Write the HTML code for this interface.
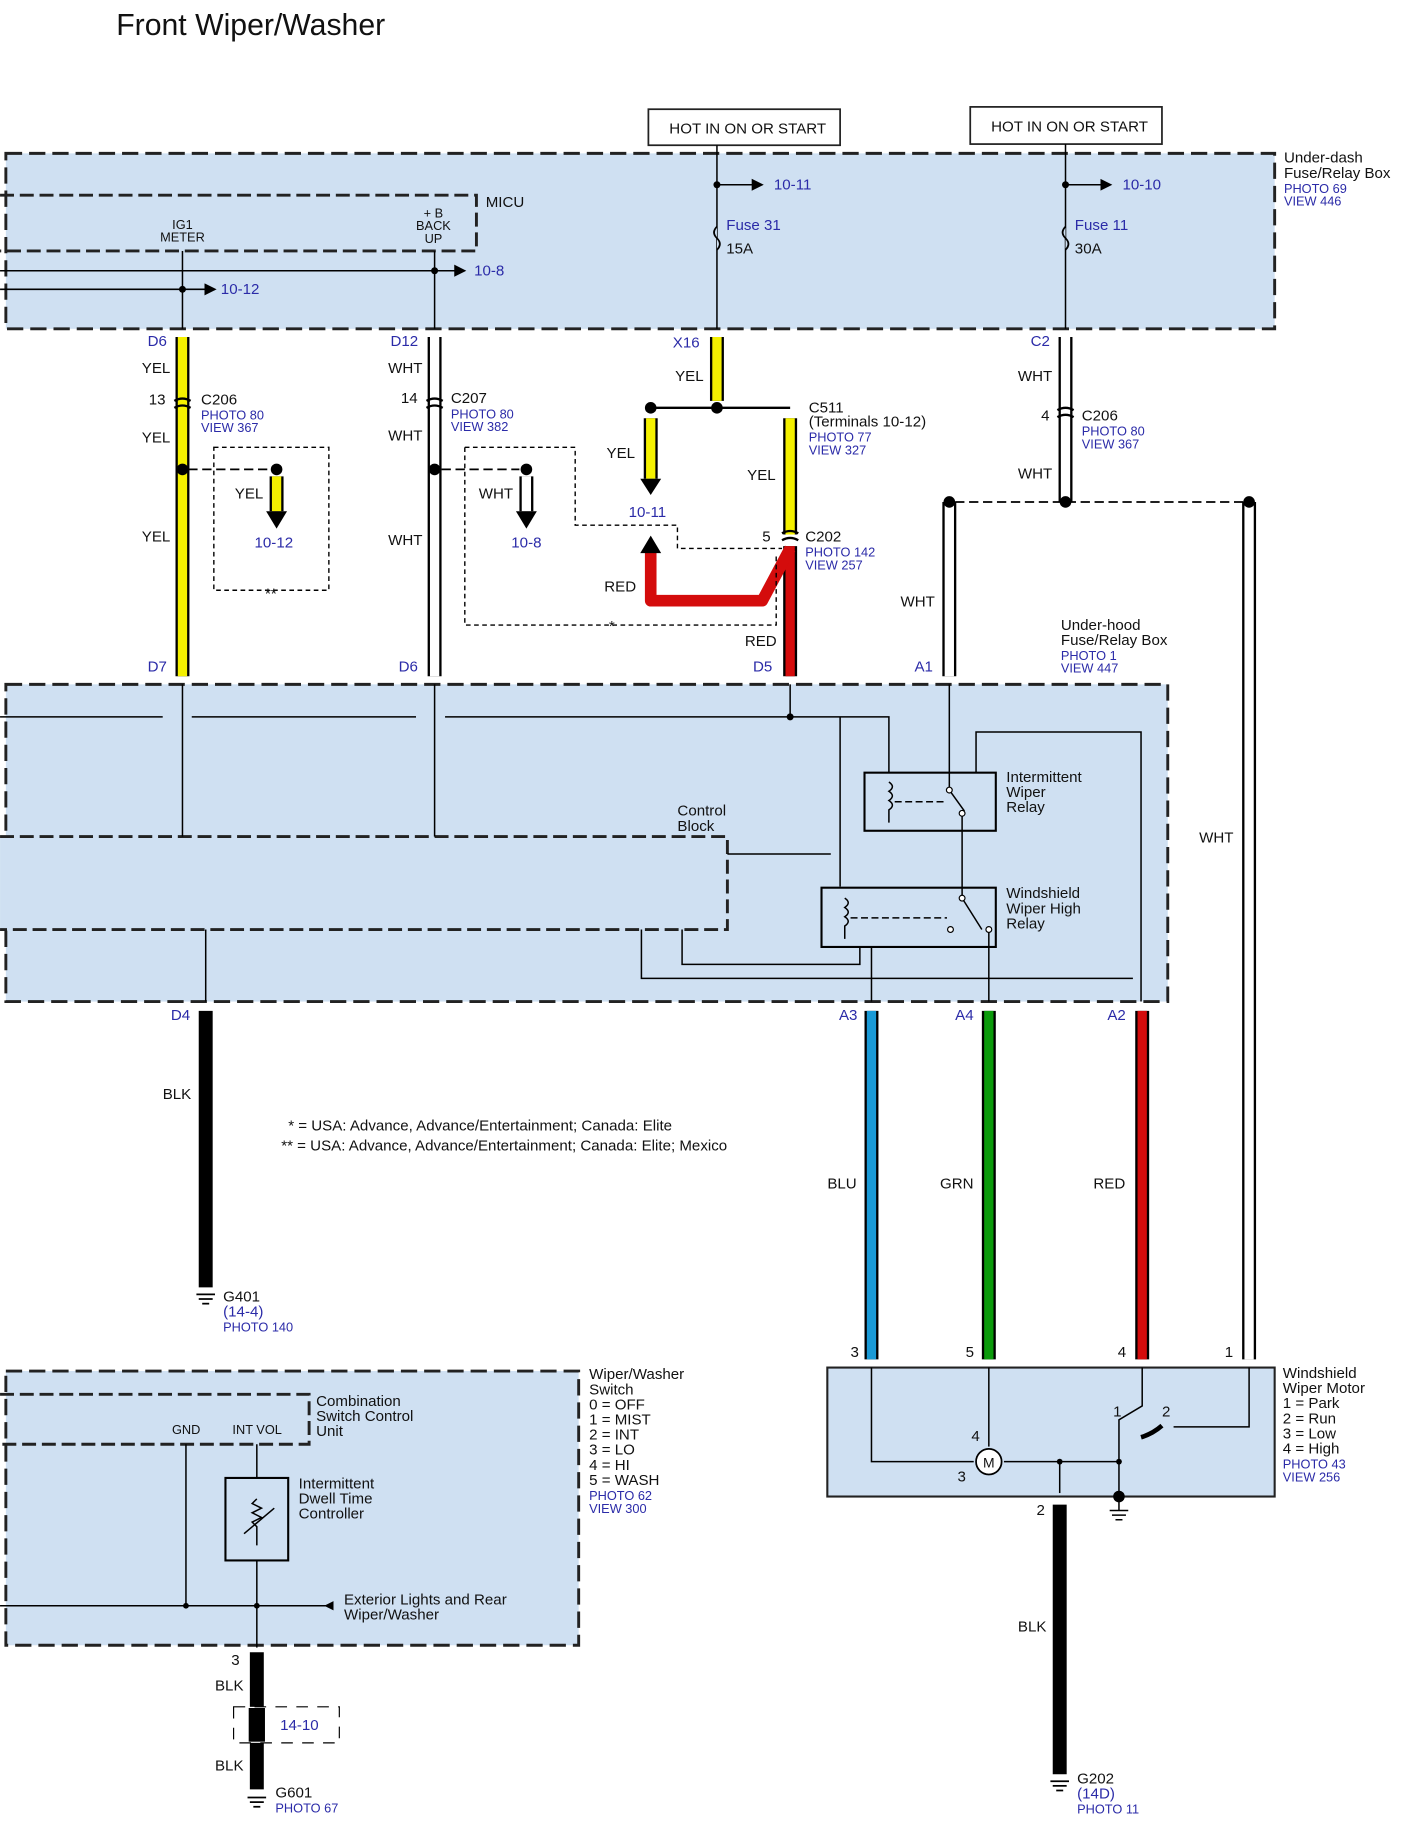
<!DOCTYPE html>
<html><head><meta charset="utf-8"><style>
html,body{margin:0;padding:0;background:#fff}
svg{display:block}
text{font-family:"Liberation Sans",sans-serif;font-size:13px;fill:#111}
.b{fill:#2b2ba8;font-size:11px}
.bl{fill:#2b2ba8;font-size:13px}
.s{font-size:11px}
</style></head><body>
<svg width="1406" height="1830" viewBox="0 0 1210 1575" xmlns="http://www.w3.org/2000/svg">
<defs>
<marker id="ar" markerWidth="8" markerHeight="8" refX="7" refY="4" orient="auto"><path d="M0,0 L8,4 L0,8z" fill="#000"/></marker>
</defs>
<text x="100" y="30" style="font-size:26px">Front Wiper/Washer</text>

<rect x="5" y="132" width="1092" height="151" fill="#cfe0f2" stroke="#222" stroke-width="2.5" stroke-dasharray="14,6"/>
<path d="M0,168 H410 V216 H0" fill="none" stroke="#222" stroke-width="2.5" stroke-dasharray="12,5"/>
<text x="418" y="178">MICU</text>
<text x="157" y="197" text-anchor="middle" class="s">IG1</text>
<text x="157" y="208" text-anchor="middle" class="s">METER</text>
<text x="373" y="187" text-anchor="middle" class="s">+ B</text>
<text x="373" y="198" text-anchor="middle" class="s">BACK</text>
<text x="373" y="209" text-anchor="middle" class="s">UP</text>
<line x1="0" y1="233" x2="400" y2="233" stroke="#000" stroke-width="1.3" marker-end="url(#ar)"/>
<line x1="0" y1="249" x2="185" y2="249" stroke="#000" stroke-width="1.3" marker-end="url(#ar)"/>
<text x="408" y="237" class="bl">10-8</text>
<text x="190" y="253" class="bl">10-12</text>
<circle cx="374" cy="233" r="3"/><circle cx="157" cy="249" r="3"/>
<line x1="157" y1="216" x2="157" y2="283" stroke="#000" stroke-width="1.3"/>
<line x1="374" y1="216" x2="374" y2="283" stroke="#000" stroke-width="1.3"/>

<rect x="558" y="94" width="165" height="31" fill="#fff" stroke="#222" stroke-width="1.5"/>
<text x="576" y="115">HOT IN ON OR START</text>
<rect x="835" y="92" width="165" height="32" fill="#fff" stroke="#222" stroke-width="1.5"/>
<text x="853" y="113">HOT IN ON OR START</text>
<line x1="617" y1="125" x2="617" y2="283" stroke="#000" stroke-width="1.3"/>
<line x1="917" y1="124" x2="917" y2="283" stroke="#000" stroke-width="1.3"/>
<circle cx="617" cy="159" r="3"/><circle cx="917" cy="159" r="3"/>
<line x1="617" y1="159" x2="656" y2="159" stroke="#000" stroke-width="1.3" marker-end="url(#ar)"/>
<line x1="917" y1="159" x2="956" y2="159" stroke="#000" stroke-width="1.3" marker-end="url(#ar)"/>
<text x="666" y="163" class="bl">10-11</text><text x="966" y="163" class="bl">10-10</text>
<text x="625" y="198" class="bl">Fuse 31</text><text x="625" y="218">15A</text>
<text x="925" y="198" class="bl">Fuse 11</text><text x="925" y="218">30A</text>
<path d="M617,195 q-5,5 0,10 q5,5 0,10" fill="#cfe0f2" stroke="#000" stroke-width="1.5"/>
<path d="M917,195 q-5,5 0,10 q5,5 0,10" fill="#cfe0f2" stroke="#000" stroke-width="1.5"/>
<text x="1105" y="140">Under-dash</text><text x="1105" y="153">Fuse/Relay Box</text>
<text x="1105" y="166" class="b">PHOTO 69</text><text x="1105" y="177" class="b">VIEW 446</text>

<g stroke-linecap="butt">
<line x1="157" y1="290" x2="157" y2="582" stroke="#000" stroke-width="12"/>
<line x1="157" y1="290" x2="157" y2="582" stroke="#f4f000" stroke-width="8"/>
<line x1="374" y1="290" x2="374" y2="582" stroke="#000" stroke-width="12"/>
<line x1="374" y1="290" x2="374" y2="582" stroke="#fff" stroke-width="8"/>
<line x1="617" y1="290" x2="617" y2="345" stroke="#000" stroke-width="12"/>
<line x1="617" y1="290" x2="617" y2="345" stroke="#f4f000" stroke-width="8"/>
<line x1="917" y1="290" x2="917" y2="432" stroke="#000" stroke-width="12"/>
<line x1="917" y1="290" x2="917" y2="432" stroke="#fff" stroke-width="8"/>
<line x1="817" y1="432" x2="817" y2="582" stroke="#000" stroke-width="12"/>
<line x1="817" y1="432" x2="817" y2="582" stroke="#fff" stroke-width="8"/>
<line x1="1075" y1="432" x2="1075" y2="1170" stroke="#000" stroke-width="12"/>
<line x1="1075" y1="432" x2="1075" y2="1170" stroke="#fff" stroke-width="8"/>
<line x1="680" y1="360" x2="680" y2="460" stroke="#000" stroke-width="12"/>
<line x1="680" y1="360" x2="680" y2="460" stroke="#f4f000" stroke-width="8"/>
<line x1="560" y1="360" x2="560" y2="412" stroke="#000" stroke-width="12"/>
<line x1="560" y1="360" x2="560" y2="412" stroke="#f4f000" stroke-width="8"/>
<path d="M551,412 H569 L560,426z" fill="#000"/>
<line x1="238" y1="410" x2="238" y2="440" stroke="#000" stroke-width="12"/>
<line x1="238" y1="410" x2="238" y2="440" stroke="#f4f000" stroke-width="8"/>
<path d="M229,440 H247 L238,455z" fill="#000"/>
<line x1="453" y1="410" x2="453" y2="440" stroke="#000" stroke-width="12"/>
<line x1="453" y1="410" x2="453" y2="440" stroke="#fff" stroke-width="8"/>
<path d="M444,440 H462 L453,455z" fill="#000"/>
<path d="M680,470 V582" stroke="#000" stroke-width="12" fill="none"/>
<path d="M680,470 V582" stroke="#d40c0c" stroke-width="8" fill="none"/>
<path d="M560,475 V517 H656 L680,472" stroke="#d40c0c" stroke-width="10" fill="none" stroke-linejoin="round"/>
<path d="M551,476 H569 L560,461z" fill="#000"/>
</g>
<line x1="560" y1="351" x2="680" y2="351" stroke="#000" stroke-width="2"/>
<circle cx="560" cy="351" r="5"/><circle cx="617" cy="351" r="5"/>
<circle cx="157" cy="404" r="5"/><circle cx="238" cy="404" r="5"/>
<circle cx="374" cy="404" r="5"/><circle cx="453" cy="404" r="5"/>
<circle cx="817" cy="432" r="5"/><circle cx="917" cy="432" r="5"/><circle cx="1075" cy="432" r="5"/>
<g fill="none" stroke="#000" stroke-width="1.2" stroke-dasharray="4,3">
<line x1="162" y1="404" x2="232" y2="404" stroke-dasharray="8,4" stroke-width="1.5"/>
<line x1="380" y1="404" x2="447" y2="404" stroke-dasharray="8,4" stroke-width="1.5"/>
<line x1="822" y1="432" x2="1070" y2="432" stroke-dasharray="8,4" stroke-width="1.5"/>
<rect x="184" y="385" width="99" height="123"/>
<path d="M400,385 H495 V452 H583 V472 H673"/>
<path d="M400,385 V538 H668 V478"/>
</g>
<g stroke="#000" stroke-width="2" fill="none">
<path d="M150,345 q7,-4 14,0 M150,351 q7,-4 14,0"/>
<path d="M367,345 q7,-4 14,0 M367,351 q7,-4 14,0"/>
<path d="M910,353 q7,-4 14,0 M910,359 q7,-4 14,0"/>
<path d="M673,459 q7,-4 14,0 M673,465 q7,-4 14,0"/>
</g>
<text x="127" y="298" class="bl">D6</text><text x="122" y="321">YEL</text>
<text x="128" y="348">13</text><text x="173" y="348">C206</text>
<text x="173" y="361" class="b">PHOTO 80</text><text x="173" y="372" class="b">VIEW 367</text>
<text x="122" y="381">YEL</text><text x="122" y="466">YEL</text>
<text x="202" y="429">YEL</text><text x="219" y="471" class="bl">10-12</text>
<text x="228" y="515">**</text>
<text x="336" y="298" class="bl">D12</text><text x="334" y="321">WHT</text>
<text x="345" y="347">14</text><text x="388" y="347">C207</text>
<text x="388" y="360" class="b">PHOTO 80</text><text x="388" y="371" class="b">VIEW 382</text>
<text x="334" y="379">WHT</text><text x="334" y="469">WHT</text>
<text x="412" y="429">WHT</text><text x="440" y="471" class="bl">10-8</text>
<text x="579" y="299" class="bl">X16</text><text x="581" y="328">YEL</text>
<text x="696" y="355">C511</text><text x="696" y="367">(Terminals 10-12)</text>
<text x="696" y="380" class="b">PHOTO 77</text><text x="696" y="391" class="b">VIEW 327</text>
<text x="522" y="394">YEL</text><text x="643" y="413">YEL</text>
<text x="541" y="445" class="bl">10-11</text>
<text x="656" y="466">5</text><text x="693" y="466">C202</text>
<text x="693" y="479" class="b">PHOTO 142</text><text x="693" y="490" class="b">VIEW 257</text>
<text x="520" y="509">RED</text><text x="524" y="543">*</text><text x="641" y="556">RED</text>
<text x="887" y="298" class="bl">C2</text><text x="876" y="328">WHT</text>
<text x="896" y="362">4</text><text x="931" y="362">C206</text>
<text x="931" y="375" class="b">PHOTO 80</text><text x="931" y="386" class="b">VIEW 367</text>
<text x="876" y="412">WHT</text><text x="775" y="522">WHT</text>
<text x="913" y="542">Under-hood</text><text x="913" y="555">Fuse/Relay Box</text>
<text x="913" y="568" class="b">PHOTO 1</text><text x="913" y="579" class="b">VIEW 447</text>
<text x="1032" y="725">WHT</text>
<text x="127" y="578" class="bl">D7</text><text x="343" y="578" class="bl">D6</text>
<text x="648" y="578" class="bl">D5</text><text x="787" y="578" class="bl">A1</text>

<rect x="5" y="589" width="1000" height="273" fill="#cfe0f2" stroke="#222" stroke-width="2.5" stroke-dasharray="14,6"/>
<path d="M0,720 H626 V800 H0" fill="#cfe0f2" stroke="#222" stroke-width="2.5" stroke-dasharray="12,5"/>
<text x="583" y="702">Control</text><text x="583" y="715">Block</text>
<g stroke="#000" stroke-width="1.3" fill="none">
<path d="M0,617 H140 M165,617 H358 M383,617 H680 H765 V665"/>
<line x1="157" y1="589" x2="157" y2="720"/><line x1="374" y1="589" x2="374" y2="720"/>
<line x1="680" y1="589" x2="680" y2="617"/>
<path d="M723,617 V763"/>
<path d="M626,735 H715"/>
<path d="M177,800 V862"/>
<path d="M817,589 V680"/>
<path d="M840,665 V630 H982 V862"/>
<path d="M828,700 V773"/>
<path d="M552,800 V842 H975"/>
<path d="M587,800 V830 H740 V815"/>
<path d="M750,815 V862"/><path d="M851,800 V862"/>
<rect x="744" y="665" width="113" height="50" stroke-width="1.8"/>
<rect x="707" y="764" width="150" height="51" stroke-width="1.8"/>
<path d="M765,673 q6,4 0,8 q6,4 0,8 q6,4 0,8 V708" />
<path d="M727,773 q6,4 0,8 q6,4 0,8 q6,4 0,8 V808"/>
<path d="M770,690 H815" stroke-dasharray="6,3"/>
<path d="M732,790 H815" stroke-dasharray="6,3"/>
<path d="M817,680 L830,698"/><path d="M828,773 L845,800"/>
</g>
<circle cx="680" cy="617" r="3"/>
<circle cx="817" cy="680" r="2.5" fill="#fff" stroke="#000"/><circle cx="828" cy="700" r="2.5" fill="#fff" stroke="#000"/>
<circle cx="828" cy="773" r="2.5" fill="#fff" stroke="#000"/><circle cx="818" cy="800" r="2.5" fill="#fff" stroke="#000"/><circle cx="851" cy="800" r="2.5" fill="#fff" stroke="#000"/>
<text x="866" y="673">Intermittent</text><text x="866" y="686">Wiper</text><text x="866" y="699">Relay</text>
<text x="866" y="773">Windshield</text><text x="866" y="786">Wiper High</text><text x="866" y="799">Relay</text>
<text x="147" y="878" class="bl">D4</text><text x="722" y="878" class="bl">A3</text>
<text x="822" y="878" class="bl">A4</text><text x="953" y="878" class="bl">A2</text>

<line x1="177" y1="870" x2="177" y2="1108" stroke="#000" stroke-width="12"/>
<line x1="750" y1="870" x2="750" y2="1170" stroke="#000" stroke-width="12"/>
<line x1="750" y1="870" x2="750" y2="1170" stroke="#1a9ad6" stroke-width="8"/>
<line x1="851" y1="870" x2="851" y2="1170" stroke="#000" stroke-width="12"/>
<line x1="851" y1="870" x2="851" y2="1170" stroke="#0b9a0b" stroke-width="8"/>
<line x1="983" y1="870" x2="983" y2="1170" stroke="#000" stroke-width="12"/>
<line x1="983" y1="870" x2="983" y2="1170" stroke="#d40c0c" stroke-width="8"/>
<text x="140" y="946">BLK</text><text x="712" y="1023">BLU</text>
<text x="809" y="1023">GRN</text><text x="941" y="1023">RED</text>
<text x="248" y="973">* =  USA: Advance, Advance/Entertainment; Canada: Elite</text>
<text x="242" y="990">** =  USA: Advance, Advance/Entertainment; Canada: Elite; Mexico</text>
<g stroke="#000" stroke-width="1.5"><line x1="169" y1="1114" x2="185" y2="1114"/><line x1="171" y1="1118" x2="183" y2="1118"/><line x1="174" y1="1122" x2="180" y2="1122"/></g>
<text x="192" y="1120">G401</text><text x="192" y="1133" class="bl">(14-4)</text><text x="192" y="1146" class="b">PHOTO 140</text>

<text x="732" y="1168">3</text><text x="831" y="1168">5</text><text x="962" y="1168">4</text><text x="1054" y="1168">1</text>
<rect x="712" y="1177" width="385" height="111" fill="#cfe0f2" stroke="#222" stroke-width="1.8"/>
<g stroke="#000" stroke-width="1.3" fill="none">
<path d="M750,1177 V1258 H838"/><path d="M864,1258 H963"/>
<path d="M851,1177 V1245"/>
<path d="M983,1177 V1210 L963,1222 V1290"/>
<path d="M1075,1177 V1228 H1010"/>
<path d="M912,1258 V1285"/>
<path d="M963,1290 V1300 M955,1300 H971 M957,1304 H969 M960,1308 H966"/>
</g>
<path d="M982,1237 q10,-3 18,-10" stroke="#000" stroke-width="4" fill="none"/>
<circle cx="851" cy="1258" r="11" fill="#fff" stroke="#000" stroke-width="1.5"/>
<text x="846" y="1263" style="font-size:12px">M</text>
<circle cx="963" cy="1288" r="5"/><circle cx="912" cy="1258" r="2.5"/><circle cx="963" cy="1258" r="2.5"/>
<text x="836" y="1240">4</text><text x="824" y="1275">3</text><text x="958" y="1219">1</text><text x="1000" y="1219">2</text>
<text x="1104" y="1186">Windshield</text><text x="1104" y="1199">Wiper Motor</text>
<text x="1104" y="1212">1 = Park</text><text x="1104" y="1225">2 = Run</text>
<text x="1104" y="1238">3 = Low</text><text x="1104" y="1251">4 = High</text>
<text x="1104" y="1264" class="b">PHOTO 43</text><text x="1104" y="1275" class="b">VIEW 256</text>
<text x="892" y="1304">2</text>
<line x1="912" y1="1295" x2="912" y2="1527" stroke="#000" stroke-width="12"/>
<text x="876" y="1404">BLK</text>
<g stroke="#000" stroke-width="1.5"><line x1="904" y1="1533" x2="920" y2="1533"/><line x1="906" y1="1537" x2="918" y2="1537"/><line x1="909" y1="1541" x2="915" y2="1541"/></g>
<text x="927" y="1535">G202</text><text x="927" y="1548" class="bl">(14D)</text><text x="927" y="1561" class="b">PHOTO 11</text>

<rect x="5" y="1180" width="493" height="236" fill="#cfe0f2" stroke="#222" stroke-width="2.5" stroke-dasharray="14,6"/>
<path d="M0,1200 H266 V1243 H0" fill="none" stroke="#222" stroke-width="2.5" stroke-dasharray="12,5"/>
<text x="272" y="1210">Combination</text><text x="272" y="1223">Switch Control</text><text x="272" y="1236">Unit</text>
<text x="148" y="1234" class="s">GND</text><text x="200" y="1234" class="s">INT VOL</text>
<g stroke="#000" stroke-width="1.3" fill="none">
<path d="M160,1243 V1382"/><path d="M221,1243 V1272"/><path d="M221,1343 V1418"/>
<path d="M0,1382 H285"/>
<rect x="194" y="1272" width="54" height="71" stroke-width="1.8"/>
<path d="M221,1290 l-4,4 l8,4 l-8,4 l8,4 l-8,4 l4,4 V1330"/>
<path d="M210,1320 L236,1298"/>
</g>
<path d="M287,1378 V1386 L279,1382z" fill="#000"/>
<circle cx="160" cy="1382" r="2.5"/><circle cx="221" cy="1382" r="2.5"/>
<text x="257" y="1281">Intermittent</text><text x="257" y="1294">Dwell Time</text><text x="257" y="1307">Controller</text>
<text x="296" y="1381">Exterior Lights and Rear</text><text x="296" y="1394">Wiper/Washer</text>
<text x="507" y="1187">Wiper/Washer</text><text x="507" y="1200">Switch</text>
<text x="507" y="1213">0 = OFF</text><text x="507" y="1226">1 = MIST</text><text x="507" y="1239">2 = INT</text>
<text x="507" y="1252">3 = LO</text><text x="507" y="1265">4 = HI</text><text x="507" y="1278">5 = WASH</text>
<text x="507" y="1291" class="b">PHOTO 62</text><text x="507" y="1302" class="b">VIEW 300</text>
<text x="199" y="1433">3</text>
<line x1="221" y1="1422" x2="221" y2="1540" stroke="#000" stroke-width="12"/>
<rect x="201" y="1469" width="91" height="31" fill="#fff" stroke="#000" stroke-dasharray="10,8"/>
<rect x="214" y="1470" width="14" height="29" fill="#000"/>
<text x="241" y="1489" class="bl">14-10</text>
<text x="185" y="1455">BLK</text><text x="185" y="1524">BLK</text>
<g stroke="#000" stroke-width="1.5"><line x1="213" y1="1547" x2="229" y2="1547"/><line x1="215" y1="1551" x2="227" y2="1551"/><line x1="218" y1="1555" x2="224" y2="1555"/></g>
<text x="237" y="1547">G601</text><text x="237" y="1560" class="b">PHOTO 67</text>
</svg>
</body></html>
